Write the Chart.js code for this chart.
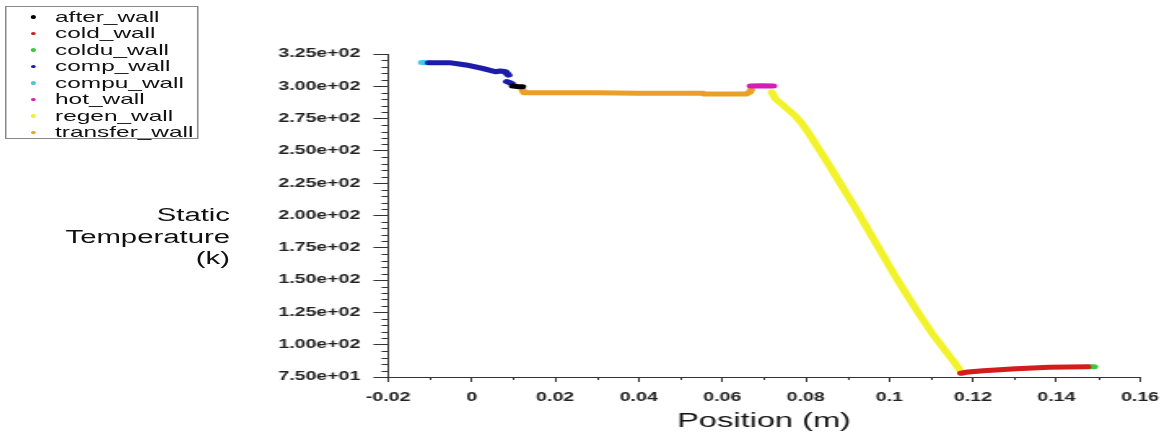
<!DOCTYPE html>
<html>
<head>
<meta charset="utf-8">
<script src="https://cdn.jsdelivr.net/npm/chart.js@4.4.1/dist/chart.umd.min.js"></script>
<style>
  html, body { margin:0; padding:0; background:#fff; overflow:hidden; }
  /* the reference picture is stretched horizontally, so the whole plot is drawn narrow and scaled */
  #wrap { position:absolute; left:0; top:0; width:720px; height:437px; transform:scaleX(1.62778); transform-origin:0 0; font-family:'Liberation Sans', Arial, sans-serif; }
  #legend { position:absolute; left:3px; top:6px; width:118.6px; height:133px; border:1px solid #8a8a8a; box-sizing:border-box; padding-top:1.75px; }
  .item { position:relative; height:16.5px; line-height:16.5px; font-size:15px; color:#111; white-space:nowrap; padding-left:29.8px; }
  .dot { position:absolute; left:14.75px; top:6.5px; width:3.5px; height:3.5px; border-radius:50%; }
  #ytitle { position:absolute; right:578.7px; top:205px; font-size:18px; line-height:21.5px; text-align:right; color:#111; }
</style>
</head>
<body>
<div id="wrap">
  <canvas id="chart"></canvas>
  <div id="legend"></div>
  <div id="ytitle">Static<br>Temperature<br>(k)</div>
</div>
<script>
// series
const seriesNames = ['after_wall', 'cold_wall', 'coldu_wall', 'comp_wall', 'compu_wall', 'hot_wall', 'regen_wall', 'transfer_wall'];
const seriesColors = ['#000000', '#d41c1c', '#3cc83c', '#1c1ca8', '#46c8e6', '#d21eb4', '#f2f22a', '#e8a02a'];

const afterX = [0.0099, 0.0110, 0.0121];
const afterY = [300.2, 299.9, 299.7];

const coldX = [0.1172, 0.1189, 0.1225, 0.1303, 0.1383, 0.1474];
const coldY = [77.9, 78.9, 79.9, 81.4, 82.5, 82.9];

const colduX = [0.1480, 0.1490];
const colduY = [83.0, 83.0];

const compX = [-0.0102, -0.00533, -0.00137, 0.00256, 0.00573, 0.00691, 0.00810, 0.00880, 0.0087, 0.00847, 0.00952];
const compY = [318.3, 318.3, 316.5, 313.9, 311.3, 311.8, 311.3, 308.7, null, 303.6, 302.3];

const compuX = [-0.0119, -0.0112, -0.0105];
const compuY = [318.4, 318.4, 318.3];

const hotX = [0.0668, 0.0695, 0.0722];
const hotY = [300.2, 300.4, 300.2];

const regenX = [0.07184, 0.07278, 0.07420, 0.07586, 0.07752, 0.07917, 0.08083, 0.08249, 0.08556, 0.08864, 0.09172, 0.09479, 0.09787, 0.10095, 0.10403, 0.10710, 0.11018, 0.11326, 0.11586, 0.11705];
const regenY = [295.6, 290.2, 286.3, 281.7, 277.0, 270.8, 263.1, 254.6, 239.1, 222.8, 206.6, 189.6, 172.6, 155.5, 139.3, 123.8, 109.1, 95.9, 85.1, 79.6];

const transferX = [0.0122, 0.0126, 0.0302, 0.0396, 0.0554, 0.0556, 0.0657, 0.0666, 0.0669];
const transferY = [297.1, 295.0, 295.0, 294.6, 294.6, 294.0, 294.0, 295.5, 297.3];

const seriesX = [afterX, coldX, colduX, compX, compuX, hotX, regenX, transferX];
const seriesY = [afterY, coldY, colduY, compY, compuY, hotY, regenY, transferY];

// axes
const xTicks = [-0.02, 0, 0.02, 0.04, 0.06, 0.08, 0.1, 0.12, 0.14, 0.16];
const xTickLabels = ['-0.02', '0', '0.02', '0.04', '0.06', '0.08', '0.1', '0.12', '0.14', '0.16'];
const yTicks = [75, 100, 125, 150, 175, 200, 225, 250, 275, 300, 325];
const yTickLabels = ['7.50e+01', '1.00e+02', '1.25e+02', '1.50e+02', '1.75e+02', '2.00e+02', '2.25e+02', '2.50e+02', '2.75e+02', '3.00e+02', '3.25e+02'];

const fontFamily = "'Liberation Sans', Arial, sans-serif";
const axisColor = '#333';

// legend box
const legendEl = document.getElementById('legend');
seriesNames.forEach((name, i) => {
  const row = document.createElement('div');
  row.className = 'item';
  const dot = document.createElement('span');
  dot.className = 'dot';
  dot.style.background = seriesColors[i];
  row.appendChild(dot);
  row.appendChild(document.createTextNode(name));
  legendEl.appendChild(row);
});

// minor ticks, drawn through the scales
const minorTicks = {
  id: 'minorTicks',
  afterDraw(chart) {
    const { ctx, chartArea } = chart;
    const xs = chart.scales.x, ys = chart.scales.y;
    ctx.save();
    ctx.strokeStyle = axisColor;
    ctx.lineWidth = 1;
    ctx.beginPath();
    for (let i = 0; i < xTicks.length - 1; i++) {
      const px = Math.round(xs.getPixelForValue((xTicks[i] + xTicks[i + 1]) / 2)) + 0.5;
      ctx.moveTo(px, chartArea.bottom);
      ctx.lineTo(px, chartArea.bottom + 3);
    }
    for (let i = 0; i < yTicks.length - 1; i++) {
      for (let k = 1; k < 5; k++) {
        const py = Math.round(ys.getPixelForValue(yTicks[i] + (yTicks[i + 1] - yTicks[i]) * k / 5)) + 0.5;
        ctx.moveTo(chartArea.left - 4, py);
        ctx.lineTo(chartArea.left, py);
      }
    }
    ctx.stroke();
    ctx.restore();
  }
};

const datasets = seriesNames.map((name, i) => ({
  label: name,
  data: seriesX[i].map((x, j) => ({ x: x, y: seriesY[i][j] })),
  showLine: true,
  spanGaps: false,
  borderColor: seriesColors[i],
  backgroundColor: seriesColors[i],
  borderWidth: 5,
  pointRadius: 0
}));

new Chart(document.getElementById('chart').getContext('2d'), {
  type: 'scatter',
  data: { datasets },
  options: {
    responsive: true,
    maintainAspectRatio: false,
    animation: false,
    layout: { padding: { top: 54, right: 14, left: 0, bottom: 0 } },
    plugins: { legend: { display: false }, tooltip: { enabled: false } },
    elements: { line: { borderCapStyle: 'round', borderJoinStyle: 'round', tension: 0 } },
    scales: {
      x: {
        type: 'linear', min: -0.02, max: 0.16,
        afterBuildTicks: s => { s.ticks = xTicks.map(v => ({ value: v })); },
        afterFit: s => { s.height = 60; },
        ticks: { autoSkip: false, maxRotation: 0, padding: 8, color: '#222', font: { family: fontFamily, size: 12, weight: 'bold' }, callback: (v, i) => xTickLabels[i] },
        grid: { drawOnChartArea: false, drawTicks: true, tickLength: 5, color: axisColor },
        border: { display: true, color: axisColor },
        title: { display: true, text: 'Position (m)', color: '#111', font: { family: fontFamily, size: 20 }, padding: { top: 0, bottom: 4 } }
      },
      y: {
        type: 'linear', min: 75, max: 325,
        afterBuildTicks: s => { s.ticks = yTicks.map(v => ({ value: v })); },
        afterFit: s => { s.width = 238.4; },
        ticks: { autoSkip: false, padding: 8, color: '#222', font: { family: fontFamily, size: 12, weight: 'bold' }, callback: (v, i) => yTickLabels[i] },
        grid: { drawOnChartArea: false, drawTicks: true, tickLength: 9, color: axisColor },
        border: { display: true, color: axisColor }
      }
    }
  },
  plugins: [minorTicks]
});
</script>
</body>
</html>
